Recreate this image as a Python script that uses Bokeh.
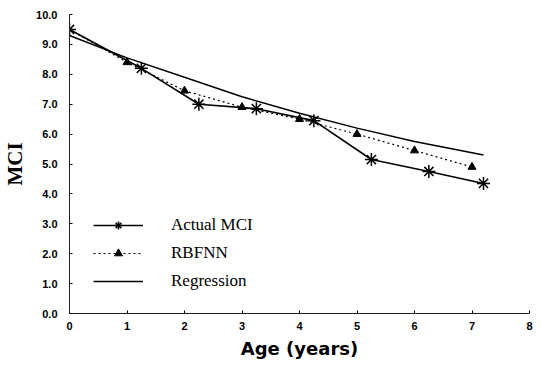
from bokeh.plotting import figure
from bokeh.models import Range1d, FixedTicker, PrintfTickFormatter, Legend, LegendItem
from bokeh.embed import file_html
from bokeh.resources import INLINE

# Data
age_actual = [0, 1.25, 2.25, 3.25, 4.25, 5.25, 6.25, 7.2]
mci_actual = [9.5, 8.2, 7.0, 6.85, 6.45, 5.15, 4.75, 4.35]

age_rbfnn = [0, 1, 2, 3, 4, 5, 6, 7]
mci_rbfnn = [9.5, 8.4, 7.45, 6.9, 6.5, 6.0, 5.45, 4.9]

age_regression = [0, 1, 2, 3, 4, 5, 6, 7.2]
mci_regression = [9.3, 8.55, 7.9, 7.25, 6.7, 6.2, 5.75, 5.3]

x_ticks = [0, 1, 2, 3, 4, 5, 6, 7, 8]
y_ticks = [0, 1, 2, 3, 4, 5, 6, 7, 8, 9, 10]

p = figure(width=533, height=361, output_backend="svg", toolbar_location=None,
           x_range=Range1d(0, 8), y_range=Range1d(0, 10),
           min_border_left=66, min_border_right=4, min_border_top=14, min_border_bottom=47)
p.outline_line_color = None
p.xgrid.grid_line_color = None
p.ygrid.grid_line_color = None

for ax in (p.xaxis[0], p.yaxis[0]):
    ax.axis_line_color = "#222222"
    ax.axis_line_width = 1
    ax.major_tick_in = 3
    ax.major_tick_out = 0
    ax.minor_tick_in = 0
    ax.minor_tick_out = 0
    ax.major_label_text_font = "Liberation Sans"
    ax.major_label_text_font_style = "bold"
    ax.major_label_text_font_size = "11px"
    ax.major_label_text_color = "black"
    ax.axis_label_text_color = "black"

p.xaxis.ticker = FixedTicker(ticks=x_ticks)
p.yaxis.ticker = FixedTicker(ticks=y_ticks)
p.yaxis.formatter = PrintfTickFormatter(format="%.1f")
p.xaxis.major_label_standoff = 8
p.yaxis.major_label_standoff = 12

p.xaxis.axis_label = "Age (years)"
p.xaxis.axis_label_text_font = "DejaVu Sans"
p.xaxis.axis_label_text_font_style = "bold"
p.xaxis.axis_label_text_font_size = "18px"
p.xaxis.axis_label_standoff = 5

p.yaxis.axis_label = "MCI"
p.yaxis.axis_label_text_font = "Liberation Serif"
p.yaxis.axis_label_text_font_style = "bold"
p.yaxis.axis_label_text_font_size = "21px"
p.yaxis.axis_label_standoff = 6

# Regression
r_reg = p.line(age_regression, mci_regression, line_color="black", line_width=1.5)

# RBFNN
r_rbf_line = p.line(age_rbfnn, mci_rbfnn, line_color="black", line_width=1.2, line_dash="2 3")
r_rbf_pts = p.scatter(age_rbfnn[1:], mci_rbfnn[1:], marker="triangle", size=8,
                      fill_color="black", line_color="black")

# Actual MCI
r_act_line = p.line(age_actual, mci_actual, line_color="black", line_width=1.6)
r_act_pts = p.scatter(age_actual, mci_actual, marker="asterisk", size=13,
                      line_color="black", line_width=1.5)

legend = Legend(items=[
    LegendItem(label="Actual MCI", renderers=[r_act_line, r_act_pts]),
    LegendItem(label="RBFNN", renderers=[r_rbf_line, r_rbf_pts]),
    LegendItem(label="Regression", renderers=[r_reg]),
], location=(24, 22))
legend.label_text_font = "Liberation Serif"
legend.label_text_font_size = "17px"
legend.label_text_color = "black"
legend.glyph_width = 50
legend.glyph_height = 20
legend.spacing = 8
legend.label_standoff = 28
legend.padding = 0
legend.margin = 0
legend.border_line_color = None
legend.background_fill_alpha = 0
p.add_layout(legend, "center")

open("out.html", "w").write(file_html(p, INLINE))
